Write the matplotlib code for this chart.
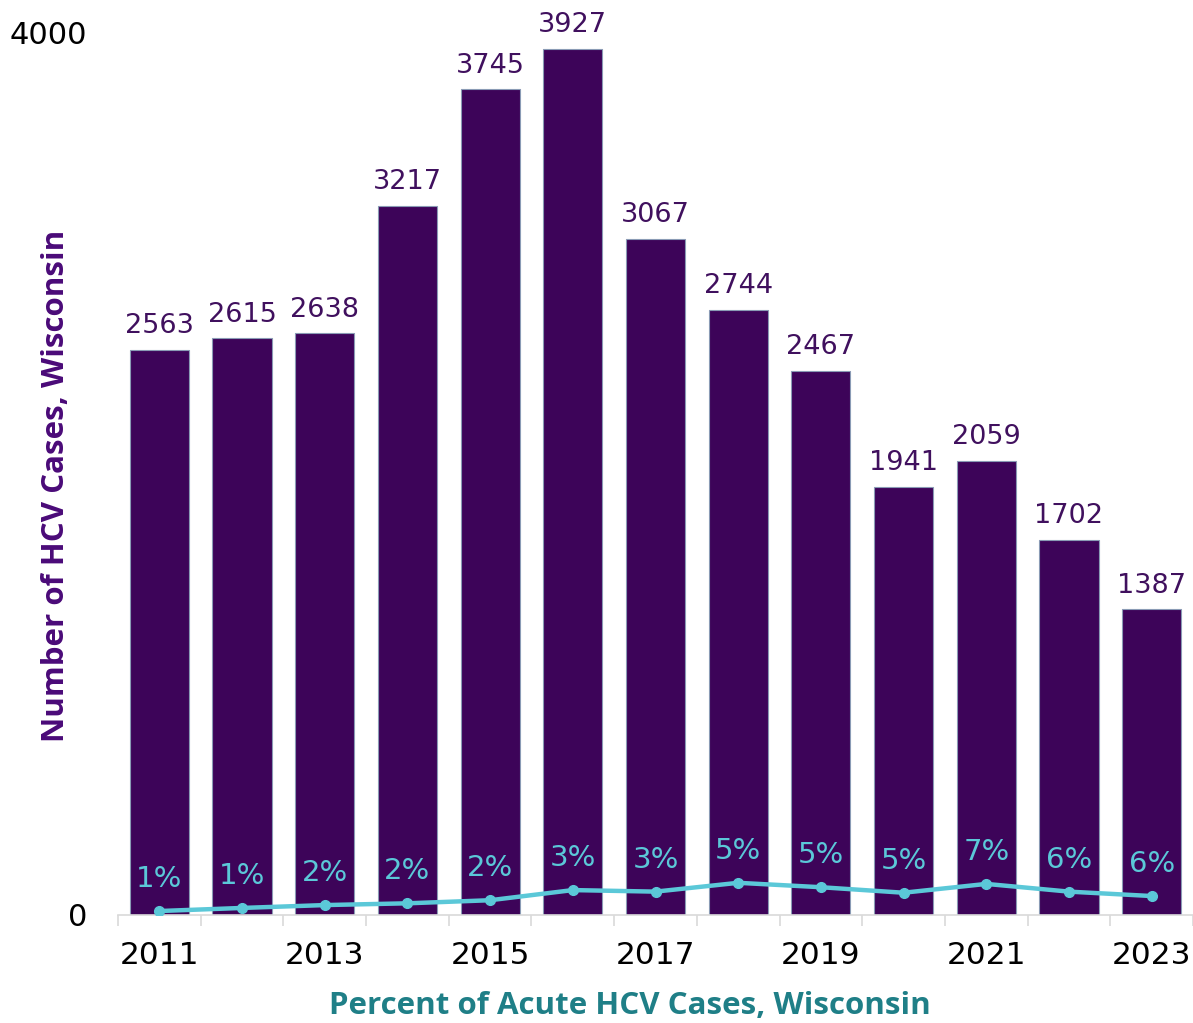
import matplotlib.pyplot as plt
import numpy as np

# casos de HCV em Wisconsin por ano
anos = ['2011', '2012', '2013', '2014', '2015', '2016', '2017',
        '2018', '2019', '2020', '2021', '2022', '2023']
casos = [2563, 2615, 2638, 3217, 3745, 3927, 3067, 2744, 2467, 1941, 2059, 1702, 1387]
agudos = [18, 32, 45, 53, 67, 113, 106, 146, 126, 101, 141, 106, 86]
pct = ['1%', '1%', '2%', '2%', '2%', '3%', '3%', '5%', '5%', '5%', '7%', '6%', '6%']

roxo = '#3d0459'
ciano = '#5bc8d8'

fig = plt.figure(figsize=(11.93, 10.23), dpi=100)
ax = fig.add_axes([118/1193, 1-915/1023, 1075/1193, 882/1023])

x = np.arange(len(anos))
barras = ax.bar(x, casos, width=0.715, color=roxo, edgecolor='#8a9bb5', linewidth=0.8, zorder=2)
for xi, v in zip(x, casos):
    ax.annotate(str(v), (xi, v), xytext=(0, 17), textcoords='offset points',
                ha='center', va='center', fontsize=19.5, color='#40105e',
                family='DejaVu Sans')

ax.plot(x, agudos, color=ciano, lw=3.2, marker='o', ms=7, zorder=3)
for xi, v, p in zip(x, agudos, pct):
    ax.annotate(p, (xi, v), xytext=(0, 23), textcoords='offset points',
                ha='center', va='center', fontsize=21, color=ciano,
                family='DejaVu Sans', zorder=4)

ax.set_xlim(-0.5, len(anos) - 0.5)
ax.set_ylim(0, 4000)
ax.set_yticks([0, 4000])
ax.set_yticklabels(['0', '4000'], fontsize=22, family='DejaVu Sans')
ax.tick_params(axis='y', length=0, pad=22)

ax.set_xticks(x[::2])
ax.set_xticklabels(anos[::2], fontsize=22.5, family='DejaVu Sans')
ax.set_xticks(np.arange(-0.5, len(anos)), minor=True)
ax.tick_params(axis='x', which='major', length=0, pad=19)
ax.tick_params(axis='x', which='minor', length=8, color='#d9d9d9', width=1.2)

for s in ['top', 'right', 'left']:
    ax.spines[s].set_visible(False)
ax.spines['bottom'].set_color('#d9d9d9')
ax.spines['bottom'].set_linewidth(1.2)

ax.set_ylabel('Number of HCV Cases, Wisconsin', fontsize=22.5, fontweight='bold',
              color='#4a0a78', family='Open Sans')
ax.yaxis.set_label_coords(-0.044, 0.487)
fig.text(0.528, 0.017, 'Percent of Acute HCV Cases, Wisconsin', ha='center', va='center',
         fontsize=22.5, fontweight='bold', color='#1f7f87', family='Open Sans')

fig.savefig('out.png', dpi=100)
